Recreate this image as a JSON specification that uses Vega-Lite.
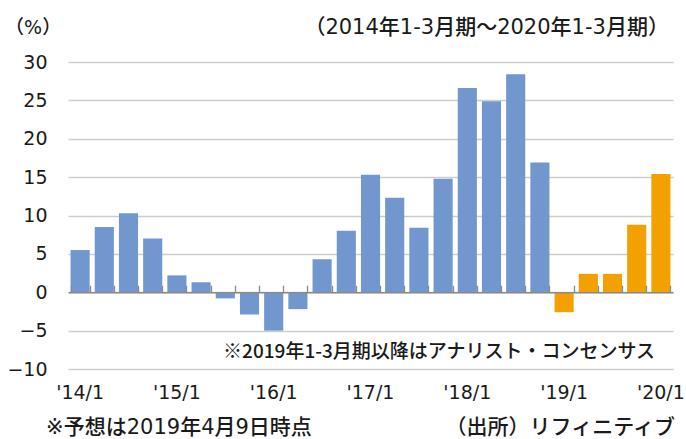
{
  "$schema": "https://vega.github.io/schema/vega-lite/v6.json",
  "width": 605,
  "height": 307,
  "autosize": {"type": "none"},
  "padding": {"left": 68, "top": 62, "right": 13, "bottom": 70},
  "background": "white",
  "config": {"view": {"stroke": null}, "font": "DejaVu Sans"},
  "data": {"values": [
    {"quarter": "'14/1", "value": 5.5, "kind": "actual"},
    {"quarter": "'14/2", "value": 8.5, "kind": "actual"},
    {"quarter": "'14/3", "value": 10.3, "kind": "actual"},
    {"quarter": "'14/4", "value": 7.0, "kind": "actual"},
    {"quarter": "'15/1", "value": 2.2, "kind": "actual"},
    {"quarter": "'15/2", "value": 1.3, "kind": "actual"},
    {"quarter": "'15/3", "value": -0.8, "kind": "actual"},
    {"quarter": "'15/4", "value": -2.9, "kind": "actual"},
    {"quarter": "'16/1", "value": -5.0, "kind": "actual"},
    {"quarter": "'16/2", "value": -2.2, "kind": "actual"},
    {"quarter": "'16/3", "value": 4.3, "kind": "actual"},
    {"quarter": "'16/4", "value": 8.0, "kind": "actual"},
    {"quarter": "'17/1", "value": 15.3, "kind": "actual"},
    {"quarter": "'17/2", "value": 12.3, "kind": "actual"},
    {"quarter": "'17/3", "value": 8.4, "kind": "actual"},
    {"quarter": "'17/4", "value": 14.8, "kind": "actual"},
    {"quarter": "'18/1", "value": 26.6, "kind": "actual"},
    {"quarter": "'18/2", "value": 24.9, "kind": "actual"},
    {"quarter": "'18/3", "value": 28.4, "kind": "actual"},
    {"quarter": "'18/4", "value": 16.9, "kind": "actual"},
    {"quarter": "'19/1", "value": -2.6, "kind": "forecast"},
    {"quarter": "'19/2", "value": 2.4, "kind": "forecast"},
    {"quarter": "'19/3", "value": 2.4, "kind": "forecast"},
    {"quarter": "'19/4", "value": 8.8, "kind": "forecast"},
    {"quarter": "'20/1", "value": 15.4, "kind": "forecast"}
  ]},
  "layer": [
    {
      "mark": {"type": "bar"},
      "encoding": {
        "x": {
          "field": "quarter", "type": "ordinal", "sort": null,
          "scale": {"paddingInner": 0.21, "paddingOuter": 0.105},
          "axis": {
            "orient": "bottom", "title": null,
            "values": ["'14/1", "'15/1", "'16/1", "'17/1", "'18/1", "'19/1", "'20/1"],
            "labelAngle": 0, "labelFont": "DejaVu Sans", "labelFontSize": 19,
            "labelColor": "#1a1a1a", "labelPadding": 14,
            "domain": false, "ticks": false, "grid": false
          }
        },
        "y": {
          "field": "value", "type": "quantitative",
          "scale": {"domain": [-10, 30], "nice": false, "zero": false},
          "axis": {
            "title": null, "values": [-10, -5, 0, 5, 10, 15, 20, 25, 30],
            "grid": true, "gridColor": "#cdcdcd", "gridWidth": 1.3,
            "domain": false, "ticks": false,
            "labelFont": "DejaVu Sans", "labelFontSize": 19, "labelPadding": 21,
            "labelColor": "#1a1a1a"
          }
        },
        "color": {
          "field": "kind", "type": "nominal",
          "scale": {"domain": ["actual", "forecast"], "range": ["#7296CE", "#F3A100"]},
          "legend": null
        }
      }
    },
    {
      "mark": {"type": "rule", "strokeOpacity": 0},
      "encoding": {
        "x": {
          "field": "quarter", "type": "ordinal", "sort": null,
          "axis": {
            "orient": "top", "offset": -230.25, "labels": false, "title": null,
            "domainColor": "#8a8a8a", "domainWidth": 1.5,
            "tickColor": "#8a8a8a", "tickWidth": 1.3, "tickSize": 7,
            "tickBand": "extent", "grid": false, "zindex": 1
          }
        },
        "y": {"datum": 0, "type": "quantitative", "axis": null},
        "y2": {"datum": 0}
      }
    },
    {
      "data": {"values": [{"note": "（%）"}]},
      "mark": {"type": "text", "align": "left", "baseline": "middle", "dx": -75, "font": "DejaVu Sans, Noto Sans CJK JP", "fontWeight": 500, "fontSize": 19, "fill": "#1a1a1a"},
      "encoding": {
        "text": {"field": "note"},
        "x": {"datum": "'14/1", "type": "ordinal", "axis": null},
        "y": {"datum": 34.4, "type": "quantitative", "axis": null}
      }
    },
    {
      "data": {"values": [{"note": "（2014年1-3月期～2020年1-3月期）"}]},
      "mark": {"type": "text", "align": "right", "baseline": "middle", "dx": 8, "font": "DejaVu Sans, Noto Sans CJK JP", "fontWeight": 500, "fontSize": 21, "fill": "#1a1a1a"},
      "encoding": {
        "text": {"field": "note"},
        "x": {"datum": "'20/1", "type": "ordinal", "axis": null},
        "y": {"datum": 34.4, "type": "quantitative", "axis": null}
      }
    },
    {
      "data": {"values": [{"note": "※2019年1-3月期以降はアナリスト・コンセンサス"}]},
      "mark": {"type": "text", "align": "center", "baseline": "middle", "dx": -4, "font": "Noto Sans CJK JP", "fontWeight": 500, "fontSize": 19, "fill": "#1a1a1a"},
      "encoding": {
        "text": {"field": "note"},
        "x": {"datum": "'17/4", "type": "ordinal", "axis": null},
        "y": {"datum": -7.85, "type": "quantitative", "axis": null}
      }
    },
    {
      "data": {"values": [{"note": "※予想は2019年4月9日時点"}]},
      "mark": {"type": "text", "align": "left", "baseline": "middle", "dx": -34, "font": "DejaVu Sans, Noto Sans CJK JP", "fontWeight": 500, "fontSize": 21, "fill": "#1a1a1a"},
      "encoding": {
        "text": {"field": "note"},
        "x": {"datum": "'14/1", "type": "ordinal", "axis": null},
        "y": {"datum": -17.7, "type": "quantitative", "axis": null}
      }
    },
    {
      "data": {"values": [{"note": "（出所）リフィニティブ"}]},
      "mark": {"type": "text", "align": "right", "baseline": "middle", "dx": 14, "font": "Noto Sans CJK JP", "fontWeight": 500, "fontSize": 21, "fill": "#1a1a1a"},
      "encoding": {
        "text": {"field": "note"},
        "x": {"datum": "'20/1", "type": "ordinal", "axis": null},
        "y": {"datum": -17.7, "type": "quantitative", "axis": null}
      }
    }
  ],
  "resolve": {"axis": {"x": "independent", "y": "independent"}}
}
